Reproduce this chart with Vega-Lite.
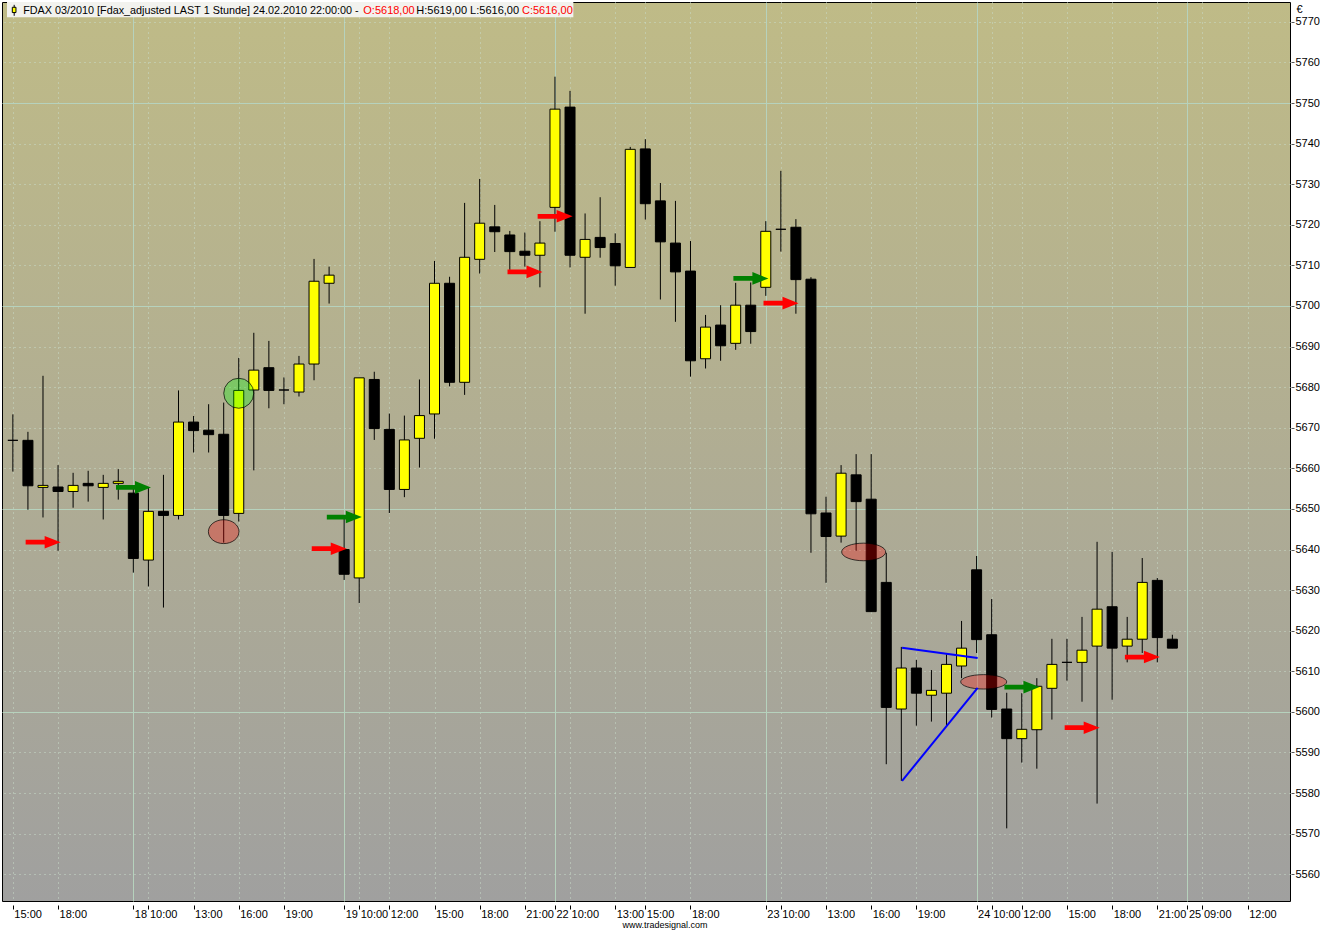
{
  "$schema": "https://vega.github.io/schema/vega-lite/v6.json",
  "width": 1288,
  "height": 899,
  "padding": {"left": 2, "top": 2, "right": 0, "bottom": 0},
  "background": "#ffffff",
  "view": {
    "fill": {
      "gradient": "linear", "x1": 0, "y1": 0, "x2": 0, "y2": 1,
      "stops": [
        {"offset": 0, "color": "#bfbb87"},
        {"offset": 0.5, "color": "#b0ad93"},
        {"offset": 1, "color": "#a0a09f"}
      ]
    },
    "stroke": "#000000",
    "strokeWidth": 1
  },
  "title": {
    "text": "www.tradesignal.com",
    "orient": "bottom",
    "anchor": "middle",
    "dx": 19,
    "offset": 2,
    "baseline": "top",
    "font": "Liberation Sans",
    "fontSize": 9,
    "fontWeight": "normal",
    "color": "#000000"
  },
  "datasets": {
    "candles": [
      {"i": 0, "o": 5666.9, "h": 5673.3, "l": 5659.2, "c": 5666.9},
      {"i": 1, "o": 5666.9, "h": 5669.0, "l": 5649.8, "c": 5655.7},
      {"i": 2, "o": 5655.3, "h": 5682.8, "l": 5647.9, "c": 5655.8},
      {"i": 3, "o": 5655.4, "h": 5660.8, "l": 5639.7, "c": 5654.3},
      {"i": 4, "o": 5654.3, "h": 5658.9, "l": 5650.3, "c": 5655.8},
      {"i": 5, "o": 5656.3, "h": 5659.4, "l": 5651.8, "c": 5655.7},
      {"i": 6, "o": 5655.3, "h": 5658.4, "l": 5647.4, "c": 5656.3},
      {"i": 7, "o": 5656.3, "h": 5659.8, "l": 5652.3, "c": 5656.8},
      {"i": 8, "o": 5653.9, "h": 5655.2, "l": 5634.3, "c": 5637.8},
      {"i": 9, "o": 5637.4, "h": 5655.2, "l": 5630.9, "c": 5649.4},
      {"i": 10, "o": 5649.4, "h": 5658.4, "l": 5625.7, "c": 5648.4},
      {"i": 11, "o": 5648.4, "h": 5679.2, "l": 5647.4, "c": 5671.4},
      {"i": 12, "o": 5671.4, "h": 5672.9, "l": 5663.9, "c": 5669.3},
      {"i": 13, "o": 5669.4, "h": 5675.8, "l": 5663.9, "c": 5668.3},
      {"i": 14, "o": 5668.4, "h": 5676.2, "l": 5641.7, "c": 5648.4},
      {"i": 15, "o": 5648.9, "h": 5687.2, "l": 5646.9, "c": 5679.2},
      {"i": 16, "o": 5679.3, "h": 5693.4, "l": 5659.5, "c": 5684.2},
      {"i": 17, "o": 5684.8, "h": 5691.4, "l": 5674.8, "c": 5679.2},
      {"i": 18, "o": 5679.3, "h": 5682.4, "l": 5675.8, "c": 5679.3},
      {"i": 19, "o": 5678.8, "h": 5687.7, "l": 5677.7, "c": 5685.7},
      {"i": 20, "o": 5685.7, "h": 5711.6, "l": 5681.7, "c": 5706.1},
      {"i": 21, "o": 5705.6, "h": 5709.7, "l": 5700.6, "c": 5707.6},
      {"i": 22, "o": 5640.0, "h": 5647.6, "l": 5632.5, "c": 5633.9},
      {"i": 23, "o": 5633.0, "h": 5682.3, "l": 5626.8, "c": 5682.3},
      {"i": 24, "o": 5681.9, "h": 5683.8, "l": 5667.0, "c": 5669.8},
      {"i": 25, "o": 5669.6, "h": 5673.5, "l": 5649.0, "c": 5654.8},
      {"i": 26, "o": 5654.8, "h": 5673.0, "l": 5652.9, "c": 5667.0},
      {"i": 27, "o": 5667.4, "h": 5681.9, "l": 5660.2, "c": 5673.0},
      {"i": 28, "o": 5673.4, "h": 5711.1, "l": 5667.3, "c": 5705.6},
      {"i": 29, "o": 5705.6, "h": 5707.2, "l": 5680.2, "c": 5681.2},
      {"i": 30, "o": 5681.2, "h": 5725.4, "l": 5678.1, "c": 5712.0},
      {"i": 31, "o": 5711.5, "h": 5731.3, "l": 5708.0, "c": 5720.4},
      {"i": 32, "o": 5719.5, "h": 5724.9, "l": 5713.3, "c": 5718.3},
      {"i": 33, "o": 5717.5, "h": 5718.5, "l": 5708.9, "c": 5713.4},
      {"i": 34, "o": 5713.5, "h": 5718.1, "l": 5709.7, "c": 5712.5},
      {"i": 35, "o": 5712.5, "h": 5720.9, "l": 5704.6, "c": 5715.5},
      {"i": 36, "o": 5724.3, "h": 5756.5, "l": 5718.3, "c": 5748.5},
      {"i": 37, "o": 5749.0, "h": 5753.0, "l": 5709.5, "c": 5712.5},
      {"i": 38, "o": 5712.0, "h": 5722.8, "l": 5698.1, "c": 5716.4},
      {"i": 39, "o": 5716.9, "h": 5726.8, "l": 5711.9, "c": 5714.4},
      {"i": 40, "o": 5715.4, "h": 5717.9, "l": 5705.0, "c": 5709.9},
      {"i": 41, "o": 5709.5, "h": 5739.2, "l": 5709.5, "c": 5738.6},
      {"i": 42, "o": 5738.7, "h": 5741.1, "l": 5721.3, "c": 5725.2},
      {"i": 43, "o": 5725.9, "h": 5730.3, "l": 5701.6, "c": 5715.8},
      {"i": 44, "o": 5715.5, "h": 5725.9, "l": 5696.1, "c": 5708.4},
      {"i": 45, "o": 5708.6, "h": 5716.0, "l": 5682.6, "c": 5686.5},
      {"i": 46, "o": 5687.0, "h": 5697.8, "l": 5684.6, "c": 5694.8},
      {"i": 47, "o": 5695.3, "h": 5700.2, "l": 5686.5, "c": 5690.2},
      {"i": 48, "o": 5690.8, "h": 5705.7, "l": 5689.2, "c": 5700.2},
      {"i": 49, "o": 5700.2, "h": 5705.8, "l": 5690.7, "c": 5693.7},
      {"i": 50, "o": 5704.6, "h": 5720.9, "l": 5702.5, "c": 5718.4},
      {"i": 51, "o": 5718.9, "h": 5733.3, "l": 5713.4, "c": 5718.9},
      {"i": 52, "o": 5719.4, "h": 5721.4, "l": 5698.1, "c": 5706.5},
      {"i": 53, "o": 5706.6, "h": 5707.1, "l": 5639.2, "c": 5648.8},
      {"i": 54, "o": 5649.0, "h": 5653.0, "l": 5631.8, "c": 5643.2},
      {"i": 55, "o": 5643.3, "h": 5660.8, "l": 5641.7, "c": 5658.8},
      {"i": 56, "o": 5658.4, "h": 5663.5, "l": 5639.7, "c": 5651.8},
      {"i": 57, "o": 5652.4, "h": 5663.5, "l": 5624.7, "c": 5624.7},
      {"i": 58, "o": 5631.9, "h": 5639.2, "l": 5587.1, "c": 5601.1},
      {"i": 59, "o": 5600.7, "h": 5616.0, "l": 5583.0, "c": 5610.8},
      {"i": 60, "o": 5610.8, "h": 5612.8, "l": 5596.6, "c": 5604.6},
      {"i": 61, "o": 5604.1, "h": 5610.3, "l": 5597.6, "c": 5605.3},
      {"i": 62, "o": 5604.6, "h": 5614.2, "l": 5596.6, "c": 5611.7},
      {"i": 63, "o": 5611.3, "h": 5622.4, "l": 5608.3, "c": 5615.7},
      {"i": 64, "o": 5635.0, "h": 5638.4, "l": 5614.5, "c": 5617.8},
      {"i": 65, "o": 5619.0, "h": 5627.8, "l": 5598.6, "c": 5600.6},
      {"i": 66, "o": 5600.7, "h": 5604.7, "l": 5571.3, "c": 5593.4},
      {"i": 67, "o": 5593.4, "h": 5604.6, "l": 5587.5, "c": 5595.7},
      {"i": 68, "o": 5595.6, "h": 5608.3, "l": 5586.0, "c": 5606.3},
      {"i": 69, "o": 5605.8, "h": 5618.0, "l": 5598.1, "c": 5611.7},
      {"i": 70, "o": 5612.2, "h": 5618.0, "l": 5607.7, "c": 5612.2},
      {"i": 71, "o": 5612.2, "h": 5623.4, "l": 5602.5, "c": 5615.2},
      {"i": 72, "o": 5616.2, "h": 5641.9, "l": 5577.4, "c": 5625.3},
      {"i": 73, "o": 5625.9, "h": 5639.4, "l": 5603.0, "c": 5615.7},
      {"i": 74, "o": 5616.2, "h": 5623.4, "l": 5612.2, "c": 5617.9},
      {"i": 75, "o": 5617.9, "h": 5637.9, "l": 5614.5, "c": 5631.9},
      {"i": 76, "o": 5632.4, "h": 5633.0, "l": 5612.2, "c": 5618.3},
      {"i": 77, "o": 5617.9, "h": 5619.0, "l": 5615.7, "c": 5615.7}
    ],
    "arrows": [
      {"i": 3, "p": 5641.8, "kind": "sell"},
      {"i": 22, "p": 5640.2, "kind": "sell"},
      {"i": 35, "p": 5708.4, "kind": "sell"},
      {"i": 37, "p": 5722.1, "kind": "sell"},
      {"i": 52, "p": 5700.7, "kind": "sell"},
      {"i": 72, "p": 5596.1, "kind": "sell"},
      {"i": 76, "p": 5613.5, "kind": "sell"},
      {"i": 9, "p": 5655.3, "kind": "buy"},
      {"i": 23, "p": 5648.0, "kind": "buy"},
      {"i": 50, "p": 5706.8, "kind": "buy"},
      {"i": 68, "p": 5606.1, "kind": "buy"}
    ],
    "spots": [
      {"id": "e1", "i": 14.0, "p": 5644.4},
      {"id": "e2", "i": 56.5, "p": 5639.4},
      {"id": "e3", "i": 64.47, "p": 5607.4},
      {"id": "g1", "i": 15.0, "p": 5678.5}
    ],
    "lines": [
      {"seg": "a", "i": 59.05, "p": 5615.8},
      {"seg": "a", "i": 64.07, "p": 5613.3},
      {"seg": "b", "i": 59.05, "p": 5583.0},
      {"seg": "b", "i": 64.07, "p": 5605.9}
    ],
    "one": [{}]
  },
  "layer": [
    {
      "data": {"name": "candles"},
      "mark": {"type": "rule", "color": "#000000", "strokeWidth": 1},
      "encoding": {
        "x": {
          "field": "i", "type": "quantitative",
          "scale": {"domain": [-0.39, 84.48], "nice": false, "zero": false},
          "axis": {
            "orient": "bottom",
            "title": null,
            "values": [0, 3, 8, 9, 12, 15, 18, 22, 23, 25, 28, 31, 34, 36, 37, 40, 42, 45, 50, 51, 54, 57, 60, 64, 65, 67, 70, 73, 76, 78, 79, 82],
            "labelExpr": "{'0':'15:00','3':'18:00','8':'18','9':'10:00','12':'13:00','15':'16:00','18':'19:00','22':'19','23':'10:00','25':'12:00','28':'15:00','31':'18:00','34':'21:00','36':'22','37':'10:00','40':'13:00','42':'15:00','45':'18:00','50':'23','51':'10:00','54':'13:00','57':'16:00','60':'19:00','64':'24','65':'10:00','67':'12:00','70':'15:00','73':'18:00','76':'21:00','78':'25','79':'09:00','82':'12:00'}[datum.value]",
            "labelAlign": "left",
            "labelBaseline": "top",
            "labelOffset": 1,
            "labelPadding": -1,
            "labelOverlap": false,
            "labelFlush": false,
            "labelBound": false,
            "domain": false,
            "offset": 4,
            "tickSize": 4,
            "tickColor": "#000000",
            "grid": true,
            "gridColor": {"condition": {"test": "indexof([8,22,36,50,64,78], datum.value) >= 0", "value": "#b6d2bd"}, "value": "#c9dccb"},
            "gridDash": {"condition": {"test": "indexof([8,22,36,50,64,78], datum.value) >= 0", "value": []}, "value": [1, 4]}
          }
        },
        "y": {
          "field": "l", "type": "quantitative",
          "scale": {"domain": [5553.4, 5774.9], "nice": false, "zero": false},
          "axis": {
            "orient": "right",
            "title": "€",
            "titleAngle": 0,
            "titleAlign": "left",
            "titleBaseline": "top",
            "titleX": 5,
            "titleY": 1,
            "titleFont": "Liberation Sans",
            "titleFontSize": 11,
            "titleFontWeight": "normal",
            "titleColor": "#000000",
            "values": [5560, 5570, 5580, 5590, 5600, 5610, 5620, 5630, 5640, 5650, 5660, 5670, 5680, 5690, 5700, 5710, 5720, 5730, 5740, 5750, 5760, 5770],
            "format": "d",
            "labelBaseline": "middle",
            "labelPadding": 1,
            "labelOverlap": false,
            "labelBound": false,
            "labelFlush": false,
            "domain": false,
            "offset": 1,
            "tickSize": 3,
            "tickColor": "#555555",
            "grid": true,
            "gridColor": {"condition": {"test": "datum.value % 50 === 0", "value": "#b6d2bd"}, "value": "#c9dccb"},
            "gridDash": {"condition": {"test": "datum.value % 50 === 0", "value": []}, "value": [1, 4]}
          }
        },
        "y2": {"field": "h"}
      }
    },
    {
      "data": {"name": "candles"},
      "mark": {"type": "bar", "width": 10, "stroke": "#000000", "strokeWidth": 1},
      "encoding": {
        "x": {"field": "i", "type": "quantitative"},
        "y": {"field": "o", "type": "quantitative"},
        "y2": {"field": "c"},
        "fill": {"condition": {"test": "datum.c >= datum.o", "value": "#ffff00"}, "value": "#000000"}
      }
    },
    {
      "data": {"name": "spots"},
      "transform": [{"filter": "datum.id === 'e1'"}],
      "mark": {"type": "point", "filled": true, "fill": "#ff0000", "fillOpacity": 0.3, "stroke": "#000000", "strokeWidth": 1, "strokeOpacity": 0.7, "opacity": 1, "size": 936,
        "shape": "M-1,0C-1,-0.431,-0.552,-0.78,0,-0.78C0.552,-0.78,1,-0.431,1,0C1,0.431,0.552,0.78,0,0.78C-0.552,0.78,-1,0.431,-1,0Z"},
      "encoding": {
        "x": {"field": "i", "type": "quantitative"},
        "y": {"field": "p", "type": "quantitative"}
      }
    },
    {
      "data": {"name": "spots"},
      "transform": [{"filter": "datum.id === 'e2'"}],
      "mark": {"type": "point", "filled": true, "fill": "#ff0000", "fillOpacity": 0.3, "stroke": "#000000", "strokeWidth": 1, "strokeOpacity": 0.7, "opacity": 1, "size": 1936,
        "shape": "M-1,0C-1,-0.221,-0.552,-0.4,0,-0.4C0.552,-0.4,1,-0.221,1,0C1,0.221,0.552,0.4,0,0.4C-0.552,0.4,-1,0.221,-1,0Z"},
      "encoding": {
        "x": {"field": "i", "type": "quantitative"},
        "y": {"field": "p", "type": "quantitative"}
      }
    },
    {
      "data": {"name": "spots"},
      "transform": [{"filter": "datum.id === 'e3'"}],
      "mark": {"type": "point", "filled": true, "fill": "#ff0000", "fillOpacity": 0.3, "stroke": "#000000", "strokeWidth": 1, "strokeOpacity": 0.7, "opacity": 1, "size": 2116,
        "shape": "M-1,0C-1,-0.173,-0.552,-0.313,0,-0.313C0.552,-0.313,1,-0.173,1,0C1,0.173,0.552,0.313,0,0.313C-0.552,0.313,-1,0.173,-1,0Z"},
      "encoding": {
        "x": {"field": "i", "type": "quantitative"},
        "y": {"field": "p", "type": "quantitative"}
      }
    },
    {
      "data": {"name": "spots"},
      "transform": [{"filter": "datum.id === 'g1'"}],
      "mark": {"type": "point", "filled": true, "fill": "#00ff00", "fillOpacity": 0.3, "stroke": "#000000", "strokeWidth": 1, "strokeOpacity": 0.7, "opacity": 1, "size": 900, "shape": "circle"},
      "encoding": {
        "x": {"field": "i", "type": "quantitative"},
        "y": {"field": "p", "type": "quantitative"}
      }
    },
    {
      "data": {"name": "lines"},
      "mark": {"type": "line", "color": "#0000ff", "strokeWidth": 2},
      "encoding": {
        "x": {"field": "i", "type": "quantitative"},
        "y": {"field": "p", "type": "quantitative"},
        "detail": {"field": "seg", "type": "nominal"}
      }
    },
    {
      "data": {"name": "arrows"},
      "transform": [{"filter": "datum.kind === 'sell'"}],
      "mark": {
        "type": "point", "filled": true, "fill": "#ff0000", "opacity": 1, "size": 400,
        "shape": "M-3.24,-0.24L-1.34,-0.24L-1.34,-0.63L0.26,0L-1.34,0.63L-1.34,0.24L-3.24,0.24Z"
      },
      "encoding": {
        "x": {"field": "i", "type": "quantitative"},
        "y": {"field": "p", "type": "quantitative"}
      }
    },
    {
      "data": {"name": "arrows"},
      "transform": [{"filter": "datum.kind === 'buy'"}],
      "mark": {
        "type": "point", "filled": true, "fill": "#008000", "opacity": 1, "size": 400,
        "shape": "M-3.24,-0.24L-1.34,-0.24L-1.34,-0.63L0.26,0L-1.34,0.63L-1.34,0.24L-3.24,0.24Z"
      },
      "encoding": {
        "x": {"field": "i", "type": "quantitative"},
        "y": {"field": "p", "type": "quantitative"}
      }
    },
    {
      "data": {"name": "one"},
      "mark": {"type": "rect", "fill": "#f2f2ee"},
      "encoding": {
        "x": {"datum": -0.39, "type": "quantitative"},
        "x2": {"datum": 37.22},
        "y": {"datum": 5774.9, "type": "quantitative"},
        "y2": {"datum": 5771.13}
      }
    },
    {
      "data": {"name": "one"},
      "mark": {"type": "rule", "color": "#000000", "strokeWidth": 1},
      "encoding": {
        "x": {"datum": 0.087, "type": "quantitative"},
        "y": {"datum": 5774.2, "type": "quantitative"},
        "y2": {"datum": 5771.5}
      }
    },
    {
      "data": {"name": "one"},
      "mark": {"type": "rect", "fill": "#ffff00", "stroke": "#000000", "strokeWidth": 1},
      "encoding": {
        "x": {"datum": -0.038, "type": "quantitative"},
        "x2": {"datum": 0.206},
        "y": {"datum": 5773.6, "type": "quantitative"},
        "y2": {"datum": 5772.3}
      }
    },
    {
      "data": {"name": "one"},
      "mark": {"type": "text", "align": "left", "baseline": "alphabetic", "font": "Liberation Sans", "fontSize": 10.8, "color": "#000000"},
      "encoding": {
        "x": {"datum": 0.687, "type": "quantitative"},
        "y": {"datum": 5771.94, "type": "quantitative"},
        "text": {"value": "FDAX 03/2010 [Fdax_adjusted LAST 1 Stunde] 24.02.2010 22:00:00 -"}
      }
    },
    {
      "data": {"name": "one"},
      "mark": {"type": "text", "align": "left", "baseline": "alphabetic", "font": "Liberation Sans", "fontSize": 11, "color": "#ff0000"},
      "encoding": {
        "x": {"datum": 23.27, "type": "quantitative"},
        "y": {"datum": 5771.94, "type": "quantitative"},
        "text": {"value": "O:5618,00"}
      }
    },
    {
      "data": {"name": "one"},
      "mark": {"type": "text", "align": "left", "baseline": "alphabetic", "font": "Liberation Sans", "fontSize": 11, "color": "#000000"},
      "encoding": {
        "x": {"datum": 26.79, "type": "quantitative"},
        "y": {"datum": 5771.94, "type": "quantitative"},
        "text": {"value": "H:5619,00 L:5616,00"}
      }
    },
    {
      "data": {"name": "one"},
      "mark": {"type": "text", "align": "left", "baseline": "alphabetic", "font": "Liberation Sans", "fontSize": 11, "color": "#ff0000"},
      "encoding": {
        "x": {"datum": 33.81, "type": "quantitative"},
        "y": {"datum": 5771.94, "type": "quantitative"},
        "text": {"value": "C:5616,00"}
      }
    }
  ],
  "config": {
    "font": "Liberation Sans",
    "axis": {
      "labelFont": "Liberation Sans",
      "labelFontSize": 11,
      "labelColor": "#000000",
      "gridOpacity": 1
    }
  }
}
